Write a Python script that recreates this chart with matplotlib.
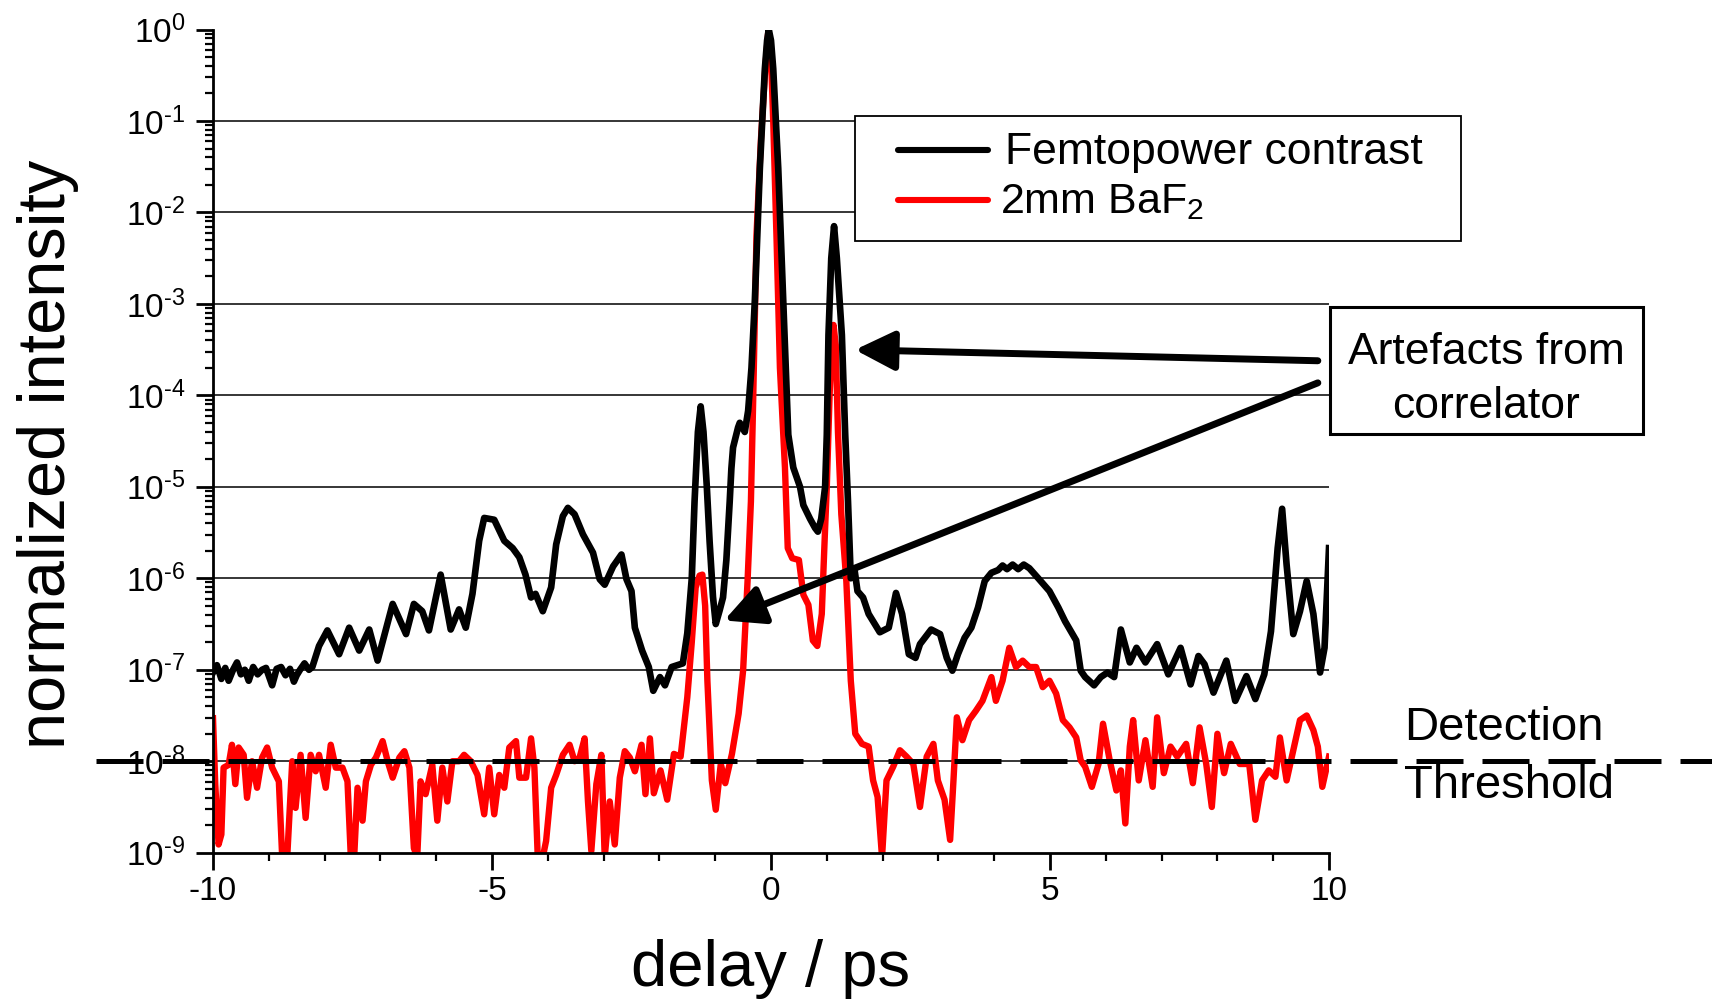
import numpy as np
import matplotlib
matplotlib.use("Agg")
import matplotlib.pyplot as plt
from matplotlib.patches import Rectangle
from matplotlib.lines import Line2D
from matplotlib.ticker import LogLocator, FuncFormatter, MultipleLocator, NullFormatter

plt.rcParams["font.family"] = ["Liberation Sans", "DejaVu Sans"]
plt.rcParams["mathtext.fontset"] = "custom"
plt.rcParams["mathtext.rm"] = "Liberation Sans"
plt.rcParams["mathtext.it"] = "Liberation Sans:italic"
plt.rcParams["mathtext.bf"] = "Liberation Sans:bold"
plt.rcParams["axes.unicode_minus"] = False

# ---- measured autocorrelation traces (delay in ps, log10 of normalized intensity) ----
delay_fp = [
    -10.00, -9.93, -9.85, -9.78, -9.72, -9.64, -9.57, -9.50, -9.43, -9.36,
    -9.28, -9.20, -9.12, -9.05, -8.98, -8.94, -8.86, -8.78, -8.70, -8.62,
    -8.55, -8.50, -8.44, -8.36, -8.28, -8.22, -8.10, -7.95, -7.74, -7.56,
    -7.38, -7.20, -7.05, -6.78, -6.54, -6.40, -6.25, -6.13, -5.92, -5.74,
    -5.59, -5.47, -5.35, -5.23, -5.14, -4.96, -4.78, -4.63, -4.51, -4.40,
    -4.30, -4.22, -4.09, -3.94, -3.85, -3.73, -3.64, -3.52, -3.37, -3.19,
    -3.07, -2.98, -2.83, -2.68, -2.59, -2.50, -2.44, -2.31, -2.19, -2.11,
    -1.99, -1.90, -1.78, -1.58, -1.50, -1.42, -1.37, -1.31, -1.26, -1.21,
    -1.15, -1.10, -1.04, -0.99, -0.92, -0.86, -0.80, -0.74, -0.71, -0.68,
    -0.59, -0.56, -0.47, -0.41, -0.35, -0.29, -0.20, -0.11, -0.07, -0.04,
    0.00, 0.04, 0.13, 0.22, 0.31, 0.40, 0.52, 0.58, 0.70, 0.79,
    0.84, 0.90, 0.97, 1.00, 1.03, 1.08, 1.13, 1.18, 1.27, 1.33,
    1.38, 1.43, 1.50, 1.55, 1.65, 1.75, 1.95, 2.11, 2.24, 2.35,
    2.47, 2.59, 2.67, 2.87, 3.03, 3.15, 3.25, 3.35, 3.47, 3.59,
    3.71, 3.83, 3.95, 4.07, 4.15, 4.23, 4.33, 4.43, 4.53, 4.63,
    4.79, 4.99, 5.15, 5.27, 5.47, 5.55, 5.63, 5.79, 5.91, 6.03,
    6.15, 6.27, 6.43, 6.55, 6.71, 6.92, 7.12, 7.34, 7.52, 7.66,
    7.77, 7.93, 8.16, 8.32, 8.52, 8.68, 8.84, 8.96, 9.08, 9.16,
    9.24, 9.36, 9.48, 9.60, 9.72, 9.84, 9.92, 10.00,
]
log_fp = [
    -7.03, -6.95, -7.10, -6.98, -7.12, -7.00, -6.92, -7.05, -7.00, -7.12,
    -6.97, -7.05, -7.00, -6.98, -7.10, -7.17, -6.99, -6.97, -7.06, -6.99,
    -7.13, -7.06, -7.00, -6.93, -7.00, -6.97, -6.74, -6.57, -6.83, -6.54,
    -6.79, -6.56, -6.90, -6.28, -6.61, -6.28, -6.36, -6.57, -5.96, -6.56,
    -6.34, -6.54, -6.17, -5.59, -5.34, -5.36, -5.59, -5.67, -5.77, -5.96,
    -6.21, -6.17, -6.36, -6.10, -5.63, -5.32, -5.23, -5.30, -5.52, -5.72,
    -6.01, -6.07, -5.87, -5.74, -6.01, -6.14, -6.54, -6.79, -6.97, -7.23,
    -7.08, -7.17, -6.97, -6.93, -6.60, -6.00, -5.16, -4.40, -4.12, -4.40,
    -5.00, -5.60, -6.20, -6.50, -6.35, -6.21, -5.80, -5.16, -4.80, -4.57,
    -4.35, -4.30, -4.40, -4.17, -3.70, -2.97, -1.52, -0.43, -0.12, 0.00,
    -0.12, -0.43, -1.52, -2.97, -4.43, -4.79, -5.00, -5.20, -5.35, -5.45,
    -5.49, -5.35, -5.00, -4.43, -3.34, -2.50, -2.15, -2.50, -3.34, -4.43,
    -5.16, -6.00, -5.92, -6.14, -6.21, -6.39, -6.59, -6.54, -6.16, -6.39,
    -6.83, -6.87, -6.72, -6.56, -6.61, -6.87, -7.01, -6.83, -6.65, -6.54,
    -6.32, -6.03, -5.94, -5.91, -5.86, -5.90, -5.85, -5.90, -5.85, -5.89,
    -6.00, -6.14, -6.32, -6.47, -6.68, -7.01, -7.08, -7.17, -7.08, -7.03,
    -7.08, -6.56, -6.92, -6.76, -6.92, -6.72, -7.05, -6.76, -7.16, -6.85,
    -6.94, -7.25, -6.90, -7.34, -7.07, -7.32, -7.05, -6.58, -5.67, -5.24,
    -5.85, -6.61, -6.36, -6.03, -6.39, -7.03, -6.76, -5.67,
]

delay_baf2 = [
    -10.00, -9.96, -9.90, -9.85, -9.81, -9.72, -9.66, -9.60, -9.54, -9.45,
    -9.39, -9.30, -9.21, -9.12, -9.03, -8.94, -8.82, -8.76, -8.67, -8.58,
    -8.52, -8.43, -8.34, -8.25, -8.16, -8.10, -7.98, -7.89, -7.80, -7.68,
    -7.59, -7.53, -7.47, -7.41, -7.32, -7.26, -7.17, -7.08, -6.96, -6.87,
    -6.78, -6.66, -6.57, -6.48, -6.40, -6.34, -6.28, -6.19, -6.07, -5.98,
    -5.89, -5.80, -5.71, -5.59, -5.50, -5.38, -5.26, -5.14, -5.05, -4.96,
    -4.87, -4.78, -4.69, -4.57, -4.51, -4.39, -4.30, -4.24, -4.18, -4.09,
    -4.03, -3.94, -3.85, -3.73, -3.61, -3.52, -3.43, -3.34, -3.28, -3.22,
    -3.13, -3.04, -2.98, -2.89, -2.80, -2.71, -2.62, -2.53, -2.44, -2.32,
    -2.25, -2.17, -2.10, -1.98, -1.86, -1.74, -1.62, -1.50, -1.42, -1.35,
    -1.28, -1.23, -1.18, -1.14, -1.06, -0.99, -0.90, -0.82, -0.70, -0.58,
    -0.50, -0.42, -0.36, -0.32, -0.26, -0.18, -0.10, -0.05, 0.00, 0.04,
    0.10, 0.16, 0.25, 0.30, 0.38, 0.50, 0.58, 0.67, 0.75, 0.83,
    0.91, 0.96, 1.00, 1.05, 1.09, 1.12, 1.16, 1.20, 1.26, 1.35,
    1.43, 1.51, 1.63, 1.75, 1.83, 1.91, 1.99, 2.07, 2.19, 2.31,
    2.43, 2.55, 2.67, 2.79, 2.91, 2.99, 3.11, 3.21, 3.27, 3.33,
    3.43, 3.55, 3.67, 3.79, 3.95, 4.03, 4.15, 4.27, 4.39, 4.51,
    4.63, 4.75, 4.87, 4.99, 5.11, 5.23, 5.35, 5.47, 5.55, 5.63,
    5.75, 5.87, 5.95, 6.07, 6.19, 6.27, 6.35, 6.43, 6.49, 6.59,
    6.71, 6.84, 6.92, 7.04, 7.16, 7.28, 7.44, 7.56, 7.68, 7.80,
    7.90, 8.00, 8.12, 8.24, 8.40, 8.57, 8.68, 8.80, 8.92, 9.04,
    9.12, 9.24, 9.36, 9.48, 9.60, 9.72, 9.80, 9.88, 10.00,
]
log_baf2 = [
    -7.53, -8.25, -8.91, -8.80, -8.07, -8.04, -7.82, -8.25, -7.85, -7.93,
    -8.40, -8.00, -8.29, -7.96, -7.85, -8.07, -8.22, -9.05, -9.05, -8.00,
    -8.51, -7.93, -8.62, -7.93, -8.11, -7.93, -8.29, -7.82, -8.07, -8.07,
    -8.22, -9.05, -9.05, -8.29, -8.65, -8.22, -8.04, -7.96, -7.78, -8.00,
    -8.18, -7.96, -7.89, -8.07, -8.95, -9.05, -8.22, -8.36, -8.04, -8.65,
    -8.07, -8.44, -8.00, -8.00, -7.93, -8.00, -8.15, -8.58, -8.07, -8.58,
    -8.15, -8.29, -7.85, -7.78, -8.18, -8.18, -7.75, -8.07, -9.05, -9.05,
    -8.87, -8.29, -8.15, -7.93, -7.82, -8.00, -7.96, -7.75, -8.44, -8.98,
    -8.25, -7.93, -9.05, -8.44, -8.91, -8.18, -7.89, -7.96, -8.11, -7.82,
    -8.36, -7.75, -8.35, -8.10, -8.42, -7.92, -7.95, -7.30, -6.70, -6.10,
    -5.97, -5.96, -6.30, -7.12, -8.21, -8.53, -8.03, -8.24, -7.92, -7.48,
    -7.01, -6.03, -5.16, -4.07, -2.25, -1.20, -0.40, -0.03, -0.30, -1.00,
    -2.30, -3.70, -4.79, -5.67, -5.78, -5.80, -6.18, -6.29, -6.68, -6.74,
    -6.39, -5.60, -5.00, -4.00, -3.40, -3.23, -3.45, -4.40, -5.30, -6.03,
    -7.12, -7.70, -7.81, -7.84, -8.21, -8.39, -9.05, -8.21, -8.06, -7.88,
    -7.95, -8.03, -8.50, -7.95, -7.81, -8.21, -8.42, -8.86, -8.21, -7.52,
    -7.77, -7.55, -7.45, -7.34, -7.08, -7.34, -7.12, -6.76, -6.97, -6.90,
    -6.97, -6.97, -7.19, -7.12, -7.26, -7.55, -7.63, -7.74, -7.99, -8.06,
    -8.28, -8.03, -7.59, -7.99, -8.32, -8.10, -8.68, -7.84, -7.55, -8.21,
    -7.77, -8.28, -7.52, -8.13, -7.84, -7.95, -7.81, -8.24, -7.63, -8.03,
    -8.50, -7.70, -8.13, -7.81, -8.03, -8.03, -8.64, -8.21, -8.10, -8.17,
    -7.74, -8.21, -7.88, -7.55, -7.50, -7.66, -7.84, -8.28, -7.95,
]

series_labels = ["Femtopower contrast", "2mm BaF$_{\\mathregular{2}}$"]
detection_threshold = 1e-8
grid_levels = [1e-1, 1e-2, 1e-3, 1e-4, 1e-5, 1e-6, 1e-7, 1e-8]
x_ticks_major = 5
x_ticks_minor = 1

# ---- figure / axes ----
W, H = 1712, 1008
fig = plt.figure(figsize=(W / 100, H / 100), dpi=100)
fig.patch.set_facecolor("white")


def fx(px):
    return px / W


def fy(py):
    return 1 - py / H


def decade_label(v, pos):
    e = int(round(np.log10(v)))
    exp_txt = ("\u2010%d" % -e) if e < 0 else "%d" % e
    return "$\\mathregular{10^{" + exp_txt + "}}$"


ax = fig.add_axes([fx(213), fy(852.7), 1116 / W, 823.2 / H])
ax.set_yscale("log")

ax.hlines(grid_levels, -10, 10, colors="black", linewidth=1.1, zorder=1)
ax.plot(delay_baf2, 10 ** np.array(log_baf2), color="#ff0000", lw=4.6,
        solid_joinstyle="round", zorder=2)
ax.plot(delay_fp, 10 ** np.array(log_fp), color="black", lw=4.8,
        solid_joinstyle="round", zorder=3)
ax.plot([-12.1, 17.5], [detection_threshold, detection_threshold], color="black",
        lw=3.6, linestyle=(0, (9.4, 3.8)), dash_capstyle="butt", clip_on=False,
        zorder=4)

ax.set_xlim(-10, 10)
ax.set_ylim(1e-9, 1)

for side in ("top", "right"):
    ax.spines[side].set_visible(False)
for side in ("left", "bottom"):
    ax.spines[side].set_linewidth(2.0)

ax.xaxis.set_major_locator(MultipleLocator(x_ticks_major))
ax.xaxis.set_minor_locator(MultipleLocator(x_ticks_minor))
ax.yaxis.set_major_locator(LogLocator(base=10, numticks=20))
ax.yaxis.set_minor_locator(LogLocator(base=10, subs=np.arange(2, 10), numticks=20))
ax.yaxis.set_minor_formatter(NullFormatter())
ax.yaxis.set_major_formatter(FuncFormatter(decade_label))

ax.tick_params(which="major", direction="out", length=12, width=2.0,
               labelsize=24, colors="black")
ax.tick_params(which="minor", direction="out", length=6, width=1.6)
ax.tick_params(axis="x", which="major", pad=5)
ax.tick_params(axis="y", which="major", pad=8)

ax.set_xlabel("delay / ps", fontsize=47)
ax.xaxis.set_label_coords(0.5, (852.7 - 986) / 823.2)
ax.xaxis.label.set_verticalalignment("baseline")
ax.set_ylabel("normalized intensity", fontsize=48)
ax.yaxis.set_label_coords((48 - 213) / 1116, (852.7 - 454) / 823.2)
ax.yaxis.label.set_verticalalignment("center")

# ---- legend box ----
fig.add_artist(Rectangle((fx(855), fy(241)), (1461 - 855) / W, (241 - 116) / H,
                         transform=fig.transFigure, facecolor="white",
                         edgecolor="black", lw=1.3, zorder=10))
fig.add_artist(Line2D([fx(898), fx(988)], [fy(150), fy(150)], color="black",
                      lw=4.4, solid_capstyle="round", transform=fig.transFigure,
                      zorder=11))
fig.add_artist(Line2D([fx(898), fx(988)], [fy(200), fy(200)], color="#ff0000",
                      lw=4.4, solid_capstyle="round", transform=fig.transFigure,
                      zorder=11))
fig.text(fx(1005), fy(164), series_labels[0], fontsize=32, va="baseline", zorder=11)
fig.text(fx(1000), fy(213), series_labels[1], fontsize=31, va="baseline", zorder=11)

# ---- annotation of correlator artefacts ----
fig.add_artist(Rectangle((fx(1330), fy(434)), (1643 - 1330) / W, (434 - 307) / H,
                         transform=fig.transFigure, facecolor="white",
                         edgecolor="black", lw=2.2, zorder=10))
fig.text(fx(1486), fy(364), "Artefacts from", fontsize=32, ha="center",
         va="baseline", zorder=11)
fig.text(fx(1486), fy(418), "correlator", fontsize=32, ha="center",
         va="baseline", zorder=11)

arrow_style = dict(arrowstyle="-|>,head_length=1.0,head_width=0.5",
                   mutation_scale=24, lw=5, color="black", shrinkA=0, shrinkB=0)
ax.annotate("", xy=(1.505, 3.15e-4), xytext=(9.80, 2.39e-4),
            arrowprops=arrow_style, annotation_clip=False, zorder=6)
ax.annotate("", xy=(-0.84, 3.46e-7), xytext=(9.80, 1.37e-4),
            arrowprops=arrow_style, annotation_clip=False, zorder=6)

fig.text(fx(1404), fy(740), "Detection", fontsize=34, va="baseline")
fig.text(fx(1404), fy(798), "Threshold", fontsize=34, va="baseline")

fig.savefig("out.png", dpi=100, facecolor="white")
